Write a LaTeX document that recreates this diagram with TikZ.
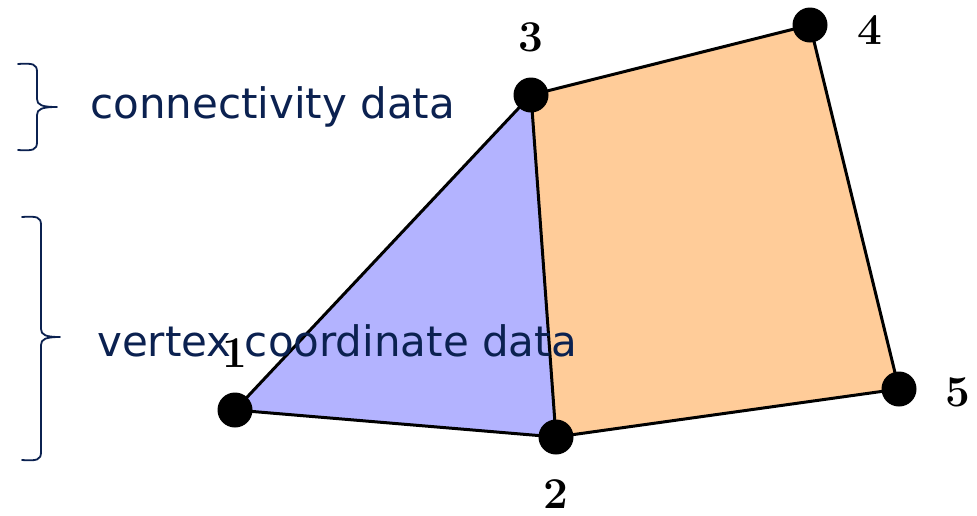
\documentclass[tikz,border=0pt]{standalone}
\usepackage{fontspec}
\newfontfamily\labelfont{DejaVu Sans}
\begin{document}
\begin{tikzpicture}[x=1pt,y=-1pt,
  dot/.style={circle,fill=black,inner sep=0pt,minimum size=35pt},
  edge/.style={draw=black,line width=3pt,line join=round},
  num/.style={font=\fontsize{44}{44}\selectfont\bfseries,inner sep=0pt},
  lab/.style={font=\labelfont\fontsize{42}{42}\selectfont,text=navy,inner sep=0pt,anchor=west},
  bracestyle/.style={draw=navy,line width=1.8pt,line cap=round,line join=round}]
\definecolor{navy}{HTML}{0B2150}
\definecolor{triblue}{HTML}{B3B3FF}
\definecolor{quadorange}{HTML}{FFCC99}
\useasboundingbox (0,0) rectangle (977,515);
% vertex positions
\coordinate (c1) at (235,410);
\coordinate (c2) at (556,437);
\coordinate (c3) at (531,95);
\coordinate (c4) at (810,25);
\coordinate (c5) at (899,389);
% faces
\fill[triblue] (c1) -- (c2) -- (c3) -- cycle;
\fill[quadorange] (c3) -- (c2) -- (c5) -- (c4) -- cycle;
\path[edge] (c1) -- (c2) -- (c5) -- (c4) -- (c3) -- cycle;
\path[edge] (c3) -- (c2);
% dots
\node[dot] (p1) at (c1) {};
\node[dot] (p2) at (c2) {};
\node[dot] (p3) at (c3) {};
\node[dot] (p4) at (c4) {};
\node[dot] (p5) at (c5) {};
% numbers
\node[num] (n1) at (235,353) {1};
\node[num] (n2) at (556,494) {2};
\node[num] (n3) at (531,37) {3};
\node[num] (n4) at (870,30) {4};
\node[num] (n5) at (958,392) {5};
% labels
\node[lab] (t1) at (90,107) {connectivity data};
\node[lab] (t2) at (97,341) {vertex coordinate data};
% braces
\coordinate (b1tip) at (57,107);
\coordinate (b2tip) at (60,337);
\path[bracestyle] (18,64) .. controls (33,63) and (37,64) .. (37,72)
  -- (37,99) .. controls (37,105) and (42,107) .. (b1tip)
  (37,115) .. controls (37,109) and (42,107) .. (b1tip)
  (37,115) -- (37,142) .. controls (37,150) and (33,151) .. (18,150);
\path[bracestyle] (22,217) .. controls (37,216) and (41,217) .. (41,225)
  -- (41,329) .. controls (41,335) and (46,337) .. (b2tip)
  (41,345) .. controls (41,339) and (46,337) .. (b2tip)
  (41,345) -- (41,452) .. controls (41,460) and (37,461) .. (22,460);
\end{tikzpicture}
\end{document}
